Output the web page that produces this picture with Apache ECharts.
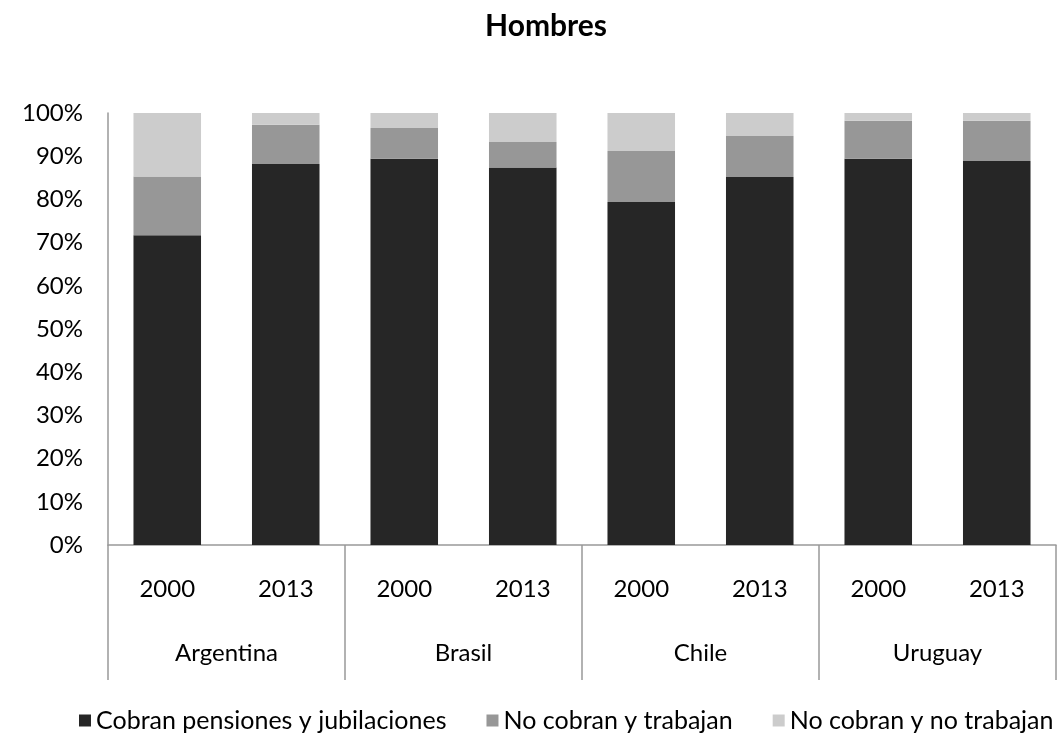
<!DOCTYPE html>
<html>
<head>
<meta charset="utf-8">
<script src="https://cdn.jsdelivr.net/npm/echarts@6/dist/echarts.min.js"></script>
<style>
  html, body { margin: 0; padding: 0; background: #fff; }
  #chart { width: 1063px; height: 738px; }
</style>
</head>
<body>
<div id="chart"></div>
<script>
const years = ["2000", "2013", "2000", "2013", "2000", "2013", "2000", "2013"];
const countries = ["Argentina", "Brasil", "Chile", "Uruguay"];
const seriesNames = ["Cobran pensiones y jubilaciones", "No cobran y trabajan", "No cobran y no trabajan"];
const cobran = [71.7, 88.2, 89.4, 87.4, 79.4, 85.2, 89.4, 88.9];
const trabajan = [13.6, 9.1, 7.1, 5.9, 11.8, 9.5, 8.8, 9.3];
const noTrabajan = [14.7, 2.7, 3.5, 6.7, 8.8, 5.3, 1.8, 1.8];
const colors = ["#262626", "#979797", "#cccccc"];

const FONT = "Lato";
const axisGray = "#999999";

const myChart = echarts.init(document.getElementById("chart"));

const makeSeries = (name, data, color) => ({
  name: name,
  type: "bar",
  stack: "total",
  data: data,
  barCategoryGap: "43%",
  itemStyle: { color: color },
  emphasis: { disabled: true },
});

const option = {
  animation: false,
  textStyle: { fontFamily: FONT },
  title: {
    text: "Hombres",
    left: 480,
    top: 6,
    textStyle: { fontFamily: FONT, fontSize: 30, fontWeight: "bold", color: "#000" },
  },
  legend: {
    data: seriesNames,
    left: 74,
    top: 703,
    icon: "rect",
    itemWidth: 12,
    itemHeight: 12,
    itemGap: 40,
    textStyle: { fontFamily: FONT, fontSize: 25, color: "#000" },
  },
  grid: { left: 108, right: 7, top: 113, bottom: 193, containLabel: false },
  xAxis: [
    {
      type: "category",
      position: "bottom",
      data: years,
      axisLine: { show: true, lineStyle: { color: axisGray, width: 1.5 } },
      axisTick: { show: false },
      axisLabel: { margin: 32, fontFamily: FONT, fontSize: 24, color: "#000", interval: 0 },
    },
    {
      type: "category",
      position: "bottom",
      data: countries,
      axisLine: { show: false },
      axisTick: { show: true, length: 135, interval: 0, lineStyle: { color: axisGray, width: 1.5 } },
      axisLabel: { margin: 96, fontFamily: FONT, fontSize: 24, color: "#000", interval: 0 },
    },
  ],
  yAxis: {
    type: "value",
    min: 0,
    max: 100,
    interval: 10,
    axisLine: { show: true, lineStyle: { color: axisGray, width: 1.5 } },
    axisTick: { show: false },
    splitLine: { show: false },
    axisLabel: { formatter: "{value}%", margin: 25, fontFamily: FONT, fontSize: 24, color: "#000" },
  },
  series: [
    makeSeries(seriesNames[0], cobran, colors[0]),
    makeSeries(seriesNames[1], trabajan, colors[1]),
    makeSeries(seriesNames[2], noTrabajan, colors[2]),
  ],
};

myChart.setOption(option);
</script>
</body>
</html>
